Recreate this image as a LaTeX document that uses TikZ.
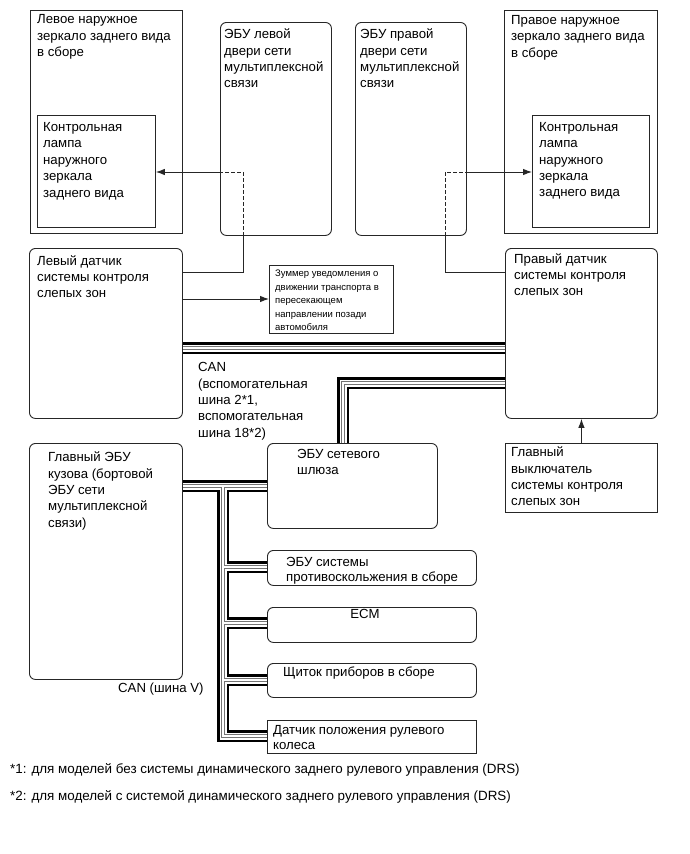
\documentclass[tikz,border=0pt]{standalone}
\usepackage{fontspec}
\setmainfont{Liberation Sans}
\usetikzlibrary{arrows.meta}
\newcommand\mybox[6]{\node[#1, anchor=north west, inner sep=0pt, minimum width={(#5)-(#3)}, minimum height={(#6)-(#4)}] (#2) at (#3,#4) {};}
\begin{document}
\begin{tikzpicture}[x=1pt,y=-1pt,
  sq/.style={draw=black!85, line width=0.9pt, fill=white},
  rd/.style={sq, rounded corners=6pt},
  txt/.style={anchor=north west, inner sep=0pt, align=left, font=\fontsize{13.2}{16.4}\selectfont},
  one/.style={anchor=base west, inner sep=0pt, font=\fontsize{13.2}{16.4}\selectfont},
  small/.style={anchor=north west, inner sep=0pt, align=left, font=\fontsize{9.5}{13.5}\selectfont},
  conn/.style={draw=black!85, line width=0.9pt},
  arr/.style={conn, -{Latex[length=9pt,width=6.5pt]}},
  dsh/.style={conn, dash pattern=on 3.5pt off 2.5pt}]
\useasboundingbox[fill=white] (0,0) rectangle (690,854);

% boxes
\mybox{sq}{lmir}{30}{10}{182}{233}
\mybox{sq}{llamp}{37}{115}{155}{227}
\mybox{rd}{ldoor}{220}{22}{331}{235}
\mybox{rd}{rdoor}{355}{22}{466}{235}
\mybox{sq}{rmir}{504}{10}{657}{233}
\mybox{sq}{rlamp}{532}{115}{649}{227}
\mybox{rd}{lsens}{29}{248}{182}{418}
\mybox{sq}{buzz}{269}{265}{393}{333}
\mybox{rd}{rsens}{505}{248}{657}{418}
\mybox{rd}{body}{29}{443}{182}{679}
\mybox{rd}{gw}{267}{443}{437}{528}
\mybox{rd}{abs}{267}{550}{476}{585}
\mybox{rd}{ecm}{267}{607}{476}{642}
\mybox{rd}{meter}{267}{663}{476}{697}
\mybox{sq}{steer}{267}{720}{476}{753}
\mybox{sq}{msw}{505}{443}{657}{512}

% texts
\node[txt] (tlmir) at (37,14.7) {Левое наружное\\зеркало заднего вида\\в сборе};
\node[txt] (tllamp) at (43,122.2) {Контрольная\\лампа\\наружного\\зеркала\\заднего вида};
\node[txt] (tldoor) at (224,28.7) {ЭБУ левой\\двери сети\\мультиплексной\\связи};
\node[txt] (trdoor) at (360,28.7) {ЭБУ правой\\двери сети\\мультиплексной\\связи};
\node[txt] (trmir) at (511,15) {Правое наружное\\зеркало заднего вида\\в сборе};
\node[txt] (trlamp) at (539,122) {Контрольная\\лампа\\наружного\\зеркала\\заднего вида};
\node[txt] (tlsens) at (37,255) {Левый датчик\\системы контроля\\слепых зон};
\node[txt] (trsens) at (514,253) {Правый датчик\\системы контроля\\слепых зон};
\node[small] (tbuzz) at (275,270) {Зуммер уведомления о\\движении транспорта в\\пересекающем\\направлении позади\\автомобиля};
\node[txt] (tcan) at (198,362.3) {CAN\\(вспомогательная\\шина 2*1,\\вспомогательная\\шина 18*2)};
\node[txt] (tbody) at (48,451.7) {Главный ЭБУ\\кузова (бортовой\\ЭБУ сети\\мультиплексной\\связи)};
\node[txt] (tgw) at (297,448.7) {ЭБУ сетевого\\шлюза};
\node[txt, font=\fontsize{13.2}{15}\selectfont] (tabs) at (286,556.7) {ЭБУ системы\\противоскольжения в сборе};
\node[one, anchor=base] (tecm) at (365,618.6) {ECM};
\node[one] (tmeter) at (283,676) {Щиток приборов в сборе};
\node[txt, font=\fontsize{13.2}{14.6}\selectfont] (tsteer) at (273,725.7) {Датчик положения рулевого\\колеса};
\node[txt] (tmsw) at (511,446.7) {Главный\\выключатель\\системы контроля\\слепых зон};
\node[one] (tcanv) at (118,692) {CAN (шина V)};
\node[one, font=\fontsize{13.4}{15}\selectfont] (f1) at (10,773) {*1: для моделей без системы динамического заднего рулевого управления (DRS)};
\node[one, font=\fontsize{13.4}{15}\selectfont] (f2) at (10,800) {*2: для моделей с системой динамического заднего рулевого управления (DRS)};

% signal connectors
\coordinate (lj) at (243,172);
\coordinate (lk) at (243,272);
\coordinate (rj) at (445,172);
\coordinate (rk) at (445,272);
\coordinate (bz) at (230,299);
\draw[dsh] (ldoor.south -| lj) -- (lj) -- (ldoor.west |- lj);
\draw[arr] (ldoor.west |- lj) -- (llamp.east |- lj);
\draw[conn] (ldoor.south -| lj) -- (lk) -- (lsens.east |- lk);
\draw[dsh] (rdoor.south -| rj) -- (rj) -- (rdoor.east |- rj);
\draw[arr] (rdoor.east |- rj) -- (rlamp.west |- rj);
\draw[conn] (rdoor.south -| rj) -- (rk) -- (rsens.west |- rk);
\draw[arr] (lsens.east |- bz) -- (buzz.west |- bz);
\draw[arr] (msw.north) -- (rsens.south);

% bus coordinates
\coordinate (b1) at (300,348);
\coordinate (b2) at (343,383);
\coordinate (b3) at (223,486);
\coordinate (b4) at (223,736);
\coordinate (b5) at (223,567);
\coordinate (b6) at (223,623);
\coordinate (b7) at (223,680);

\foreach \w/\c in {12/black, 7/white, 4.6/black!55, 2/white}{
  \draw[line width=\w pt, draw=\c]
    (lsens.east |- b1) -- (rsens.west |- b1)
    (rsens.west |- b2) -- (b2) -- (gw.north -| b2)
    (body.east |- b3) -- (gw.west |- b3)
    (b3) -- (b4) -- (steer.west |- b4)
    (b5) -- (abs.west |- b5)
    (b6) -- (ecm.west |- b6)
    (b7) -- (meter.west |- b7);
}
\end{tikzpicture}
\end{document}
